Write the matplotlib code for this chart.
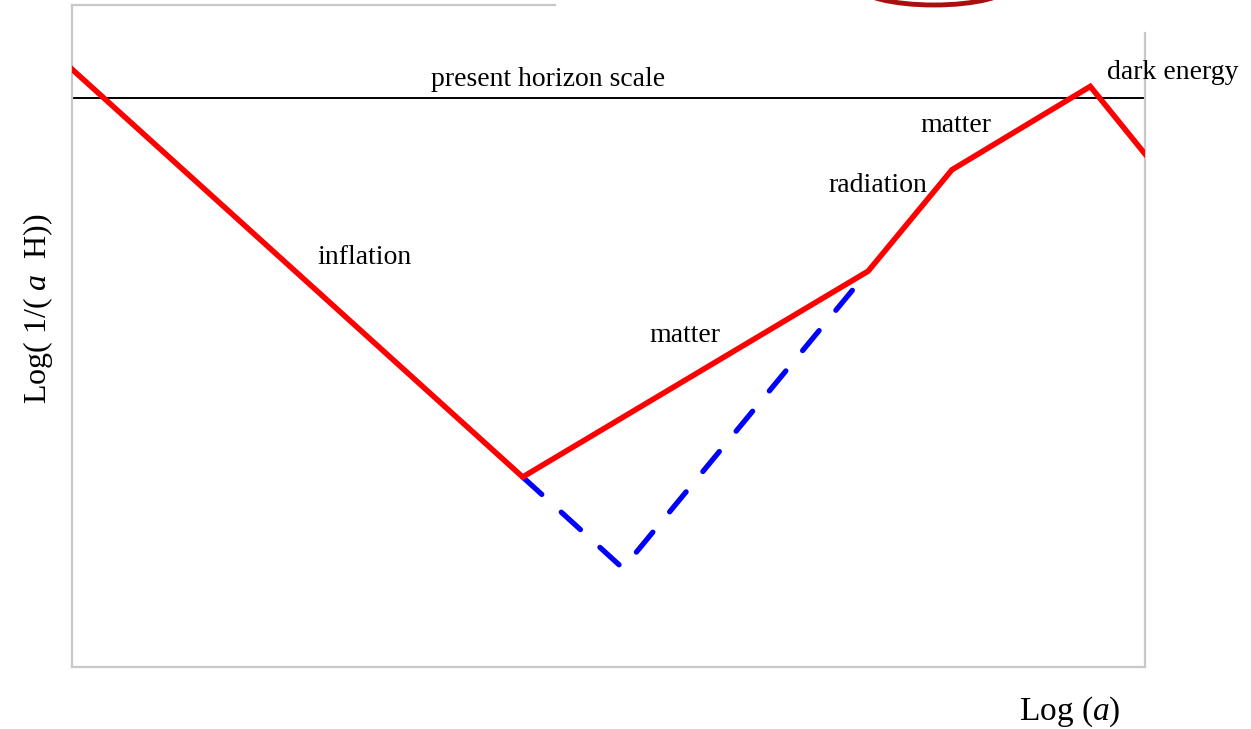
import matplotlib
matplotlib.use("Agg")
import matplotlib.pyplot as plt
from matplotlib.patches import Ellipse

plt.rcParams['font.family'] = ['Liberation Serif', 'DejaVu Serif']
plt.rcParams['mathtext.fontset'] = 'custom'
plt.rcParams['mathtext.rm'] = 'Liberation Serif'
plt.rcParams['mathtext.it'] = 'Liberation Serif:italic'

# comoving Hubble radius through the epochs (arbitrary log units)
red_x = [0.0, 4.20, 7.42, 8.20, 9.49, 10.0]
red_y = [9.03, 2.87, 5.98, 7.51, 8.77, 7.75]
# alternative history: extra matter/radiation epoch after inflation
blue_x = [4.20, 5.135, 7.42]
blue_y = [2.87, 1.49, 5.98]
horizon_y = 8.60

labels = ["present horizon scale", "inflation", "matter", "radiation", "matter", "dark energy"]
label_x = [4.44, 2.73, 5.71, 7.51, 8.24, 10.26]
label_y = [8.88, 6.19, 5.00, 7.28, 8.18, 8.98]

fig = plt.figure(figsize=(12.51, 7.29), dpi=100)
ax = fig.add_axes([72 / 1251, 62 / 729, 1073 / 1251, 662 / 729])
ax.set_xlim(0, 10)
ax.set_ylim(0, 10)

ax.plot(blue_x, blue_y, color='#0000ff', lw=3.8, dashes=(4.9, 5.0),
        dash_capstyle='round', zorder=2)
ax.plot(red_x, red_y, color='#ff0000', lw=4.0, solid_joinstyle='miter', zorder=3)
ax.axhline(horizon_y, color='black', lw=1.4, zorder=1)

for t, x, y in zip(labels, label_x, label_y):
    ax.text(x, y, t, fontsize=20, ha='center', va='center', clip_on=False)

ax.set_xticks([])
ax.set_yticks([])
for s in ax.spines.values():
    s.set_color('#c8c8c8')
    s.set_linewidth(1.6)
ax.spines['top'].set_bounds(0, 4.50)
ax.spines['right'].set_bounds(0, 9.58)

fig.text(38 / 1251, 1 - 309 / 729, r'Log( 1/( $a$  H))', rotation=90,
         fontsize=23, ha='center', va='center')
fig.text(1070 / 1251, 1 - 712 / 729, r'Log ($a$)', fontsize=24,
         ha='center', va='center')

# bit of a red ellipse peeking in at the top edge
ell = Ellipse((934 / 1251, 1 + 14 / 729), 150 / 1251, 38 / 729,
              transform=fig.transFigure, facecolor='white',
              edgecolor='#a81010', lw=3.5)
fig.patches.append(ell)

fig.savefig('out.png', dpi=100, facecolor='white')
